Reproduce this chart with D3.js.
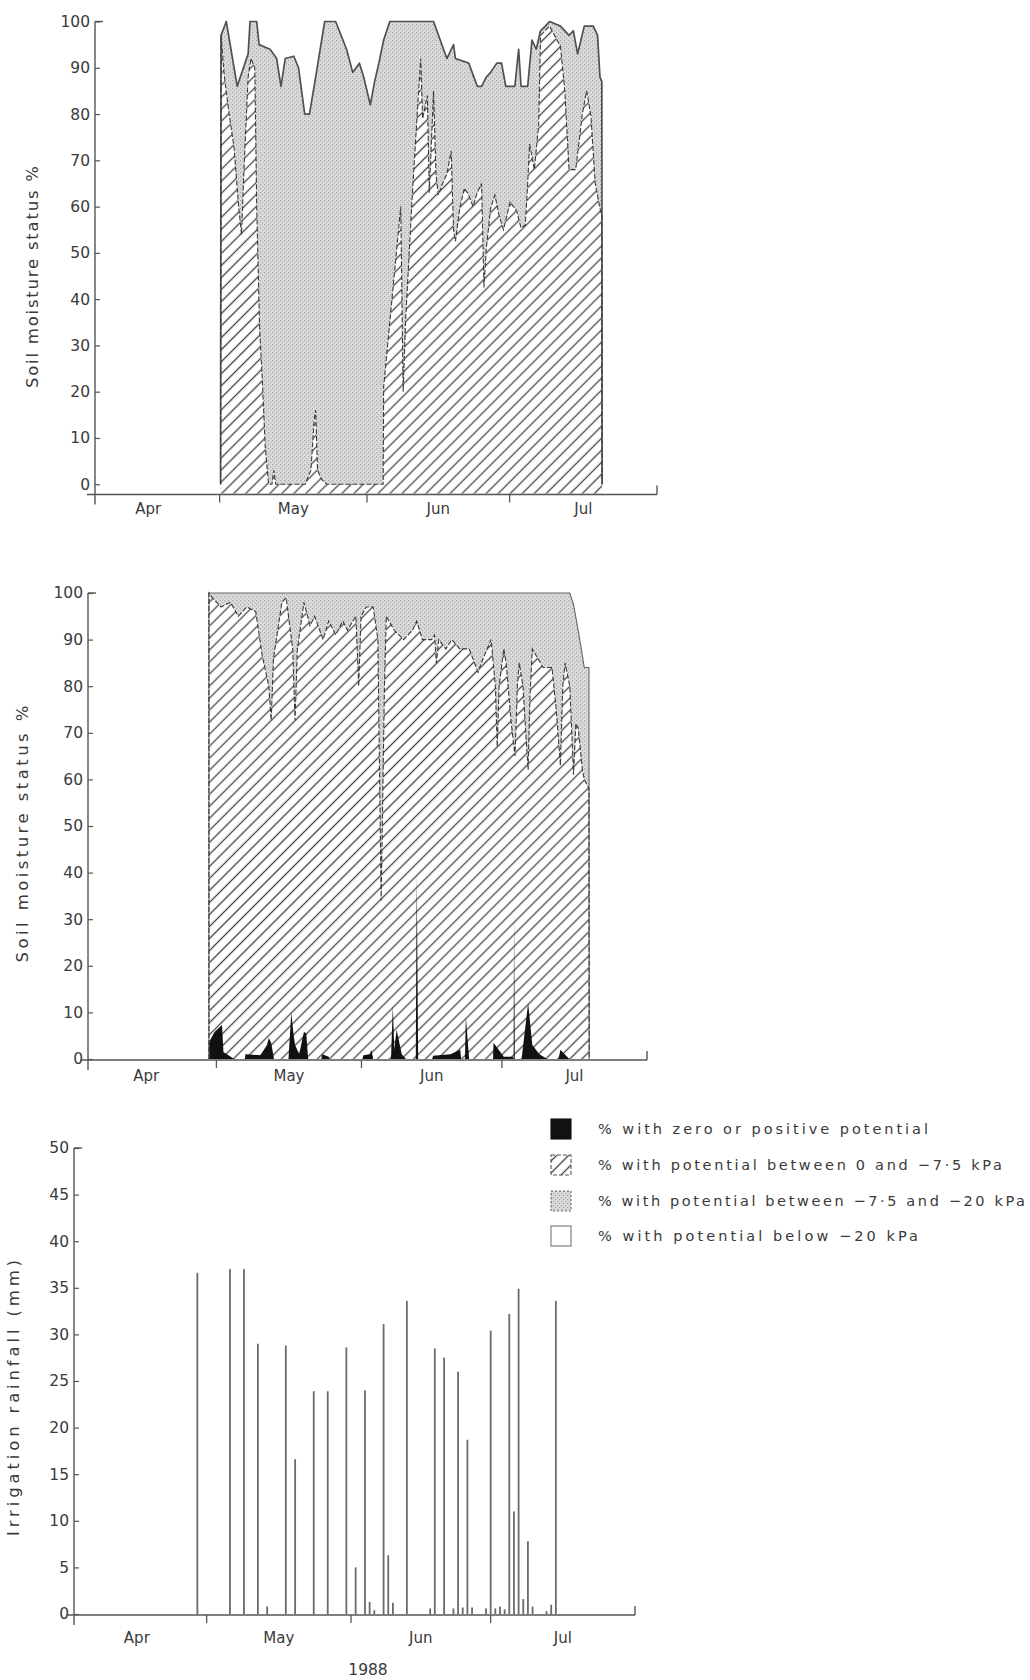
<!DOCTYPE html>
<html><head><meta charset="utf-8">
<script src="https://cdn.jsdelivr.net/npm/d3@7"></script>
<style>
body{margin:0;background:#fff;}
svg text{font-family:"DejaVu Sans",sans-serif;fill:#3a3a3a;}
</style></head><body>
<svg id="c" width="1030" height="1680"></svg>
<script>
// ---------- data (x = days since 1 Apr 1988) ----------
const monthLabels = ["Apr","May","Jun","Jul"];
const moistureTicks = [0,10,20,30,40,50,60,70,80,90,100];
const rainTicks = [0,5,10,15,20,25,30,35,40,45,50];
const yearLabel = "1988";
const legendLabels = [
  "% with zero or positive potential",
  "% with potential between 0 and \u22127\u00b75 kPa",
  "% with potential between \u22127\u00b75 and \u221220 kPa",
  "% with potential below \u221220 kPa"
];

// panel 1: upper edge of stippled layer (-7.5 to -20 kPa), cumulative %
const p1Grey = [[30.2,0],[30.3,97],[31.4,100],[33.7,86],[36.0,93],[36.4,100],[37.8,100],[38.3,95],[40.6,94],[42.0,92],[42.9,86],[43.8,92],[45.6,92.5],[46.6,90],[47.9,80],[48.9,80],[50.2,88],[52.1,100],[54.4,100],[56.7,94],[58.0,89],[59.4,91],[60.3,88],[61.7,82],[62.6,87],[63.5,91],[64.5,96],[65.8,100],[75.0,100],[76.4,96],[77.8,92],[79.2,95],[79.6,92],[82.4,91],[84.2,86],[85.1,86],[86.1,88],[87.0,89],[88.3,91],[89.3,91],[90.2,86],[92.1,86],[92.9,94],[93.4,86],[94.8,86],[95.7,96],[96.6,94],[97.5,98],[98.5,99],[99.4,100],[101.7,99],[103.5,97],[104.4,98],[105.3,93],[106.7,99],[108.6,99],[109.5,97],[110.0,88],[110.4,87],[110.45,0]];
// panel 1: upper edge of hatched layer (0 to -7.5 kPa)
const p1Hatch = [[30.2,0],[30.3,97],[31.0,88],[32.0,80],[33.0,73],[34.0,60],[34.6,54],[35.2,70],[36.0,88],[36.6,92],[37.4,90],[37.8,60],[38.4,34],[39.0,22],[39.6,8],[40.3,0],[41.0,0],[41.4,3],[41.8,0],[48.0,0],[49.2,3],[49.9,14],[50.2,16],[50.6,3],[51.5,1],[52.5,0],[64.4,0],[64.5,21],[68.1,60],[68.6,20],[69.1,35],[70.5,62],[71.8,84],[72.3,92],[72.7,79],[73.7,84],[74.1,63],[75.0,85],[75.5,67],[76.0,62.5],[76.9,65],[77.8,67],[78.7,72],[79.2,55],[79.6,52.5],[80.5,59.6],[81.5,64],[82.4,62.5],[83.3,60],[84.2,63],[85.1,65],[85.6,42.5],[86.1,51],[87.0,59.6],[87.9,62.5],[88.8,58],[89.7,55],[91.1,61],[92.5,59],[93.4,55.4],[94.3,56],[94.8,65],[95.2,73.5],[96.2,68],[97.1,77.5],[97.5,97],[99.4,99],[101.7,94.6],[102.6,85],[103.5,68],[104.9,68],[106.3,80],[107.2,85],[108.1,79.6],[109.0,65],[110.0,59.6],[110.4,58],[110.45,0]];

// panel 2
const p2Grey = [[28.4,0],[28.4,100],[105.5,100],[106.3,97.5],[107.3,92],[108.2,86.5],[108.6,84],[109.6,84],[109.65,0]];
const p2Hatch = [[28.4,0],[28.4,100],[29.1,99],[31.0,97],[33.0,98],[34.7,95],[36.5,97],[38.4,96],[39.8,86.5],[41.2,80],[41.7,72.7],[42.2,86],[44.0,98],[44.9,99],[46.3,88],[46.8,72.7],[47.3,88],[48.7,98],[50.0,93],[51.0,95],[52.8,90],[54.0,94],[55.5,91],[57.0,94],[58.0,92],[59.8,95],[60.4,80],[60.9,95],[62.0,97],[63.5,97],[64.5,90],[65.2,34],[65.9,80],[66.3,95],[68.0,92],[70.0,90],[71.9,92],[72.8,94],[74.0,90],[76.0,90],[76.6,91],[77.0,85],[77.5,90],[79.0,88],[80.3,90],[82.0,88],[84.0,88],[85.9,83],[87.0,86],[88.7,90],[89.6,80],[90.0,67],[90.4,80],[91.4,88],[91.9,85],[93.0,72],[93.8,65],[94.3,80],[94.7,85],[95.5,80],[96.1,70],[96.6,62],[97.0,78],[97.5,88],[99.8,84],[101.7,84],[102.6,75],[103.5,63],[104.0,80],[104.5,85],[105.5,80],[106.3,61],[106.8,72],[107.3,71],[108.2,62],[108.6,60],[109.6,58],[109.65,0]];
const p2Black = [[28.4,0],[28.4,3.6],[29.6,5.8],[31.2,7.3],[31.5,1.5],[33.8,0],[36.1,0],[36.2,1],[39.4,0.8],[40.8,3],[41.2,4.5],[41.7,3.5],[42.3,0],[45.4,0],[46.0,10],[46.4,6],[46.8,3],[47.7,1],[48.3,4],[48.7,5.8],[49.2,5.5],[49.6,0],[52.4,0],[52.6,1],[54.0,0.5],[54.2,0],[61.2,0],[61.4,0.8],[62.8,1],[63.1,2],[63.5,0],[67.3,0],[67.7,11.5],[68.0,2],[68.5,6.3],[69.6,1],[70.5,0],[72.6,0],[72.8,40],[73.1,0],[76.1,0],[76.3,0.7],[80.0,1],[82.1,2],[82.3,0],[83.1,0],[83.3,9],[84.0,0],[89.1,0],[89.2,3.5],[91.4,0.5],[93.3,0.5],[93.5,0],[93.6,31],[93.75,0],[95.2,0],[96.6,12],[97.5,3],[99.0,1],[100.7,0],[103.1,0],[103.5,2],[105.4,0]];

// panel 3: irrigation / rainfall events
const rainDay = [28,35,38,41,43,47,49,53,56,60,62,64,65,66,68,69,70,73,78,79,81,83,84,85,86,87,90,91,92,93,94,95,96,97,98,99,100,103,104,105];
const rainMM  = [36.6,37.0,37.0,29.0,0.8,28.8,16.6,23.9,23.9,28.6,5.0,24.0,1.3,0.4,31.1,6.3,1.2,33.6,0.6,28.5,27.5,0.6,26.0,0.7,18.7,0.7,0.6,30.4,0.6,0.8,0.5,32.2,11.0,34.9,1.6,7.8,0.8,0.3,1.0,33.6];

// ---------- drawing ----------
const svg = d3.select("#c");
const defs = svg.append("defs");
const hp = defs.append("pattern").attr("id","hatch").attr("patternUnits","userSpaceOnUse")
  .attr("width",8.5).attr("height",8.5).attr("patternTransform","rotate(45)");
hp.append("rect").attr("width",8.5).attr("height",8.5).attr("fill","#fff");
hp.append("line").attr("x1",4.25).attr("x2",4.25).attr("y1",0).attr("y2",8.5)
  .attr("stroke","#454545").attr("stroke-width",1.3);
const sp = defs.append("pattern").attr("id","stip").attr("patternUnits","userSpaceOnUse")
  .attr("width",4).attr("height",4);
sp.append("rect").attr("width",4).attr("height",4).attr("fill","#dadada");
sp.append("rect").attr("width",1.2).attr("height",1.2).attr("fill","#a5a5a5");
sp.append("rect").attr("x",2).attr("y",2).attr("width",1.2).attr("height",1.2).attr("fill","#b2b2b2");

const T0 = Date.UTC(1988,3,1);
const dt = d => new Date(T0 + d*864e5);
const mStart = m => new Date(Date.UTC(1988,m,1));
const tickMonths = [mStart(4),mStart(5),mStart(6)];

function panel(c){
  const g = svg.append("g");
  const x = d3.scaleUtc().domain([mStart(3), mStart(7)]).range([c.x0, c.x1]);
  const y = d3.scaleLinear().domain(c.yDom).range([c.yB, c.yT]);
  const base = y(c.yDom[0]);
  const area = d3.area().x(d=>x(dt(d[0]))).y0(base).y1(d=>y(d[1]));
  const line = d3.line().x(d=>x(dt(d[0]))).y(d=>y(d[1]));

  if(c.grey){
    g.append("path").datum(c.grey).attr("d",area).attr("fill","url(#stip)");
  }
  if(c.hatch){
    g.append("path").datum(c.hatch).attr("d",area).attr("fill","url(#hatch)");
  }
  if(c.black){
    g.append("path").datum(c.black).attr("d",area).attr("fill","#111");
  }
  if(c.grey){
    g.append("path").datum(c.grey).attr("d",line).attr("fill","none")
      .attr("stroke",c.greyStroke).attr("stroke-width",c.greyW).attr("stroke-linejoin","round");
  }
  if(c.hatch){
    g.append("path").datum(c.hatch).attr("d",line).attr("fill","none")
      .attr("stroke","#3a3a3a").attr("stroke-width",1.1).attr("stroke-dasharray","5,2");
  }
  if(c.bars){
    g.selectAll("rect.bar").data(c.bars).join("rect").attr("class","bar")
      .attr("x",d=>x(dt(d[0]))-0.9).attr("width",1.8)
      .attr("y",d=>y(d[1])).attr("height",d=>y(0)-y(d[1]))
      .attr("fill","#6a6a6a");
  }

  // y axis
  const ya = g.append("g").attr("transform",`translate(${c.ax},0)`)
    .call(d3.axisLeft(y).tickValues(c.ticks).tickSize(-5).tickPadding(5));
  ya.select(".domain").remove();
  ya.selectAll(".tick line").attr("stroke","#555").attr("stroke-width",1.2);
  ya.selectAll(".tick text").attr("font-size",15.5).attr("fill","#3a3a3a")
    .style("font-family","DejaVu Sans, sans-serif");
  g.append("line").attr("x1",c.ax).attr("x2",c.ax).attr("y1",y(c.ticks[c.ticks.length-1]))
    .attr("y2",base+11).attr("stroke","#555").attr("stroke-width",1.4);
  g.append("line").attr("x1",c.ax).attr("x2",c.ax+8).attr("y1",y(c.ticks[c.ticks.length-1]))
    .attr("y2",y(c.ticks[c.ticks.length-1])).attr("stroke","#555").attr("stroke-width",1.4);

  // x axis
  g.append("line").attr("x1",c.ax-8).attr("x2",x(mStart(7))).attr("y1",base+1).attr("y2",base+1)
    .attr("stroke","#555").attr("stroke-width",1.4);
  g.append("line").attr("x1",x(mStart(7))).attr("x2",x(mStart(7))).attr("y1",base+1).attr("y2",base-8)
    .attr("stroke","#555").attr("stroke-width",1.4);
  g.selectAll("line.mt").data(tickMonths).join("line").attr("class","mt")
    .attr("x1",d=>x(d)).attr("x2",d=>x(d)).attr("y1",base+1).attr("y2",base+9)
    .attr("stroke","#555").attr("stroke-width",1.3);
  g.selectAll("text.ml").data(monthLabels).join("text").attr("class","ml")
    .attr("x",(d,i)=>(x(mStart(3+i))+x(mStart(4+i)))/2).attr("y",c.labelY)
    .attr("text-anchor","middle").attr("font-size",15).text(d=>d);

  // title
  g.append("text").attr("transform",`translate(${c.titleX},${c.titleY}) rotate(-90)`)
    .attr("text-anchor","middle").attr("font-size",16.5)
    .attr("textLength",c.titleLen).attr("lengthAdjust","spacing").text(c.title);
  return {x,y,base};
}

panel({ax:95,x0:77,x1:657,yDom:[-2,100],yB:493.5,yT:21.5,ticks:moistureTicks,
  grey:p1Grey,hatch:p1Hatch,greyStroke:"#505050",greyW:1.7,
  title:"Soil moisture status %",titleX:38,titleY:277,titleLen:222,labelY:514});

panel({ax:88,x0:76,x1:647,yDom:[0,100],yB:1059,yT:593,ticks:moistureTicks,
  grey:p2Grey,hatch:p2Hatch,black:p2Black,greyStroke:"#666",greyW:1.1,
  title:"Soil moisture status %",titleX:28,titleY:834,titleLen:257,labelY:1081});

panel({ax:74,x0:67,x1:635,yDom:[0,50],yB:1614,yT:1148,ticks:rainTicks,
  bars:rainDay.map((d,i)=>[d,rainMM[i]]),
  title:"Irrigation rainfall (mm)",titleX:19,titleY:1398,titleLen:276,labelY:1643});

svg.append("text").attr("x",368).attr("y",1675).attr("text-anchor","middle")
  .attr("font-size",15.5).text(yearLabel);

// legend
const lg = svg.append("g");
const rowY = [1129,1165,1201,1236];
const textLen = [330,404,427,320];
const sw = lg.selectAll("g.sw").data(legendLabels).join("g").attr("class","sw")
  .attr("transform",(d,i)=>`translate(551,${rowY[i]-10})`);
sw.append("rect").attr("width",20).attr("height",20)
  .attr("fill",(d,i)=>["#111","url(#hatch)","url(#stip)","#fff"][i])
  .attr("stroke",(d,i)=>["#111","#555","#666","#777"][i])
  .attr("stroke-width",1.1)
  .attr("stroke-dasharray",(d,i)=>["none","4,2","2,2","none"][i]);
lg.selectAll("text.lt").data(legendLabels).join("text").attr("class","lt")
  .attr("x",598).attr("y",(d,i)=>rowY[i]+5).attr("font-size",14.5)
  .attr("textLength",(d,i)=>textLen[i]).attr("lengthAdjust","spacing").text(d=>d);
</script>
</body></html>
